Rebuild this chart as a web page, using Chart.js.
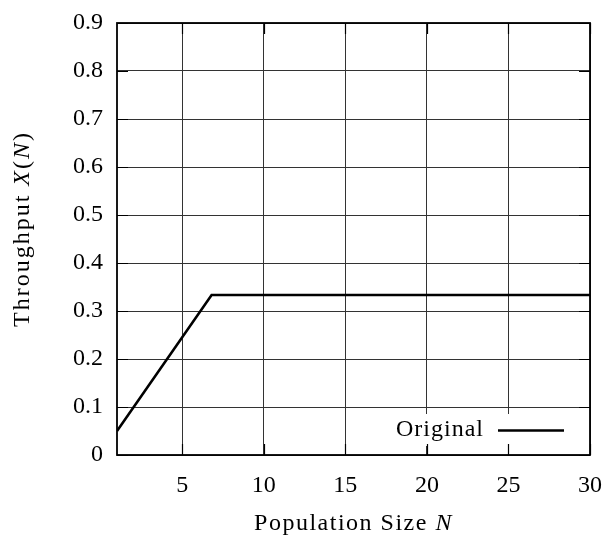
<!DOCTYPE html>
<html>
<head>
<meta charset="utf-8">
<script src="https://cdn.jsdelivr.net/npm/chart.js@4.4.0/dist/chart.umd.min.js"></script>
<style>
  html, body { margin: 0; padding: 0; background: #fff; }
</style>
</head>
<body>
<canvas id="throughputChart" width="604" height="536"></canvas>
<script>
// population sizes N and throughput X(N): linear rise, flat after the knee
const populationN = [1, 6.8, 30];
const throughputX = [0.05, 0.3333, 0.3333];
const xTickValues = [5, 10, 15, 20, 25, 30];
const yTickValues = [0, 0.1, 0.2, 0.3, 0.4, 0.5, 0.6, 0.7, 0.8, 0.9];
const yTickLabels = ['0', '0.1', '0.2', '0.3', '0.4', '0.5', '0.6', '0.7', '0.8', '0.9'];
const seriesName = 'Original';

const FONT = '"Liberation Serif", "Times New Roman", serif';
const FONT_SIZE = 24;

// draw a string made of roman/italic pieces, centred on (x, y)
function drawMixed(ctx, parts, x, y, spacing) {
  ctx.letterSpacing = spacing + 'px';
  let total = 0;
  parts.forEach(p => {
    ctx.font = (p.it ? 'italic ' : '') + FONT_SIZE + 'px ' + FONT;
    p.w = ctx.measureText(p.t).width;
    total += p.w;
  });
  let cx = x - total / 2;
  ctx.textAlign = 'left';
  ctx.textBaseline = 'alphabetic';
  parts.forEach(p => {
    ctx.font = (p.it ? 'italic ' : '') + FONT_SIZE + 'px ' + FONT;
    ctx.fillText(p.t, cx, y);
    cx += p.w;
  });
  ctx.letterSpacing = '0px';
}

// frame, inward tick marks, key box and axis titles
const framePlugin = {
  id: 'frameAndKey',
  afterDraw(chart) {
    const { ctx, chartArea: a, scales } = chart;
    const keyLine = chart.data.datasets[0];
    ctx.save();

    // key background hides the grid behind it
    ctx.fillStyle = '#fff';
    ctx.fillRect(386, 414, 192, 32);

    // inward ticks on all four sides
    ctx.strokeStyle = '#000';
    ctx.lineWidth = 1.2;
    const tl = 11;
    xTickValues.forEach(v => {
      const px = Math.round(scales.x.getPixelForValue(v)) + 0.5;
      ctx.beginPath();
      ctx.moveTo(px, a.bottom); ctx.lineTo(px, a.bottom - tl);
      ctx.moveTo(px, a.top); ctx.lineTo(px, a.top + tl);
      ctx.stroke();
    });
    yTickValues.forEach(v => {
      const py = Math.round(scales.y.getPixelForValue(v)) + 0.5;
      ctx.beginPath();
      ctx.moveTo(a.left, py); ctx.lineTo(a.left + tl, py);
      ctx.moveTo(a.right, py); ctx.lineTo(a.right - tl, py);
      ctx.stroke();
    });

    // plot frame
    ctx.lineWidth = 1.8;
    ctx.strokeRect(a.left, a.top, a.right - a.left, a.bottom - a.top);

    // key entry
    ctx.fillStyle = '#000';
    ctx.font = FONT_SIZE + 'px ' + FONT;
    ctx.letterSpacing = '1px';
    ctx.textAlign = 'right';
    ctx.textBaseline = 'middle';
    ctx.fillText(keyLine.label, 484, 430);
    ctx.letterSpacing = '0px';
    ctx.lineWidth = keyLine.borderWidth;
    ctx.beginPath();
    ctx.moveTo(498, 430.5); ctx.lineTo(564, 430.5);
    ctx.stroke();

    // axis titles
    drawMixed(ctx, [{ t: 'Population Size ', it: false }, { t: 'N', it: true }], (a.left + a.right) / 2, 530, 1.5);
    ctx.translate(29, 229);
    ctx.rotate(-Math.PI / 2);
    drawMixed(ctx, [{ t: 'Throughput ', it: false }, { t: 'X', it: true }, { t: '(', it: false }, { t: 'N', it: true }, { t: ')', it: false }], 0, 0, 2);
    ctx.restore();
  }
};

const points = populationN.map((n, i) => ({ x: n, y: throughputX[i] }));

const ctxThroughput = document.getElementById('throughputChart').getContext('2d');
const throughputChart = new Chart(ctxThroughput, {
  type: 'line',
  data: {
    datasets: [{
      label: seriesName,
      data: points,
      borderColor: '#000',
      borderWidth: 2.6,
      pointRadius: 0,
      tension: 0,
      fill: false
    }]
  },
  options: {
    responsive: false,
    animation: false,
    layout: { padding: { top: 23, right: 14, left: 0, bottom: 0 } },
    plugins: { legend: { display: false }, tooltip: { enabled: false } },
    scales: {
      x: {
        type: 'linear',
        min: 1,
        max: 30,
        afterBuildTicks: s => { s.ticks = xTickValues.map(v => ({ value: v })); },
        afterFit: s => { s.height = 81; s.paddingLeft = 0; s.paddingRight = 0; },
        grid: { color: '#333', lineWidth: 1, drawTicks: false },
        border: { display: false },
        ticks: { color: '#000', padding: 16, font: { family: FONT, size: FONT_SIZE }, maxRotation: 0 }
      },
      y: {
        type: 'linear',
        min: 0,
        max: 0.9,
        afterBuildTicks: s => { s.ticks = yTickValues.map(v => ({ value: v })); },
        afterFit: s => { s.width = 117; s.paddingTop = 0; s.paddingBottom = 0; },
        grid: { color: '#333', lineWidth: 1, drawTicks: false },
        border: { display: false },
        ticks: {
          color: '#000',
          padding: 14,
          font: { family: FONT, size: FONT_SIZE },
          callback: (v, i) => yTickLabels[i]
        }
      }
    }
  },
  plugins: [framePlugin]
});
</script>
</body>
</html>
